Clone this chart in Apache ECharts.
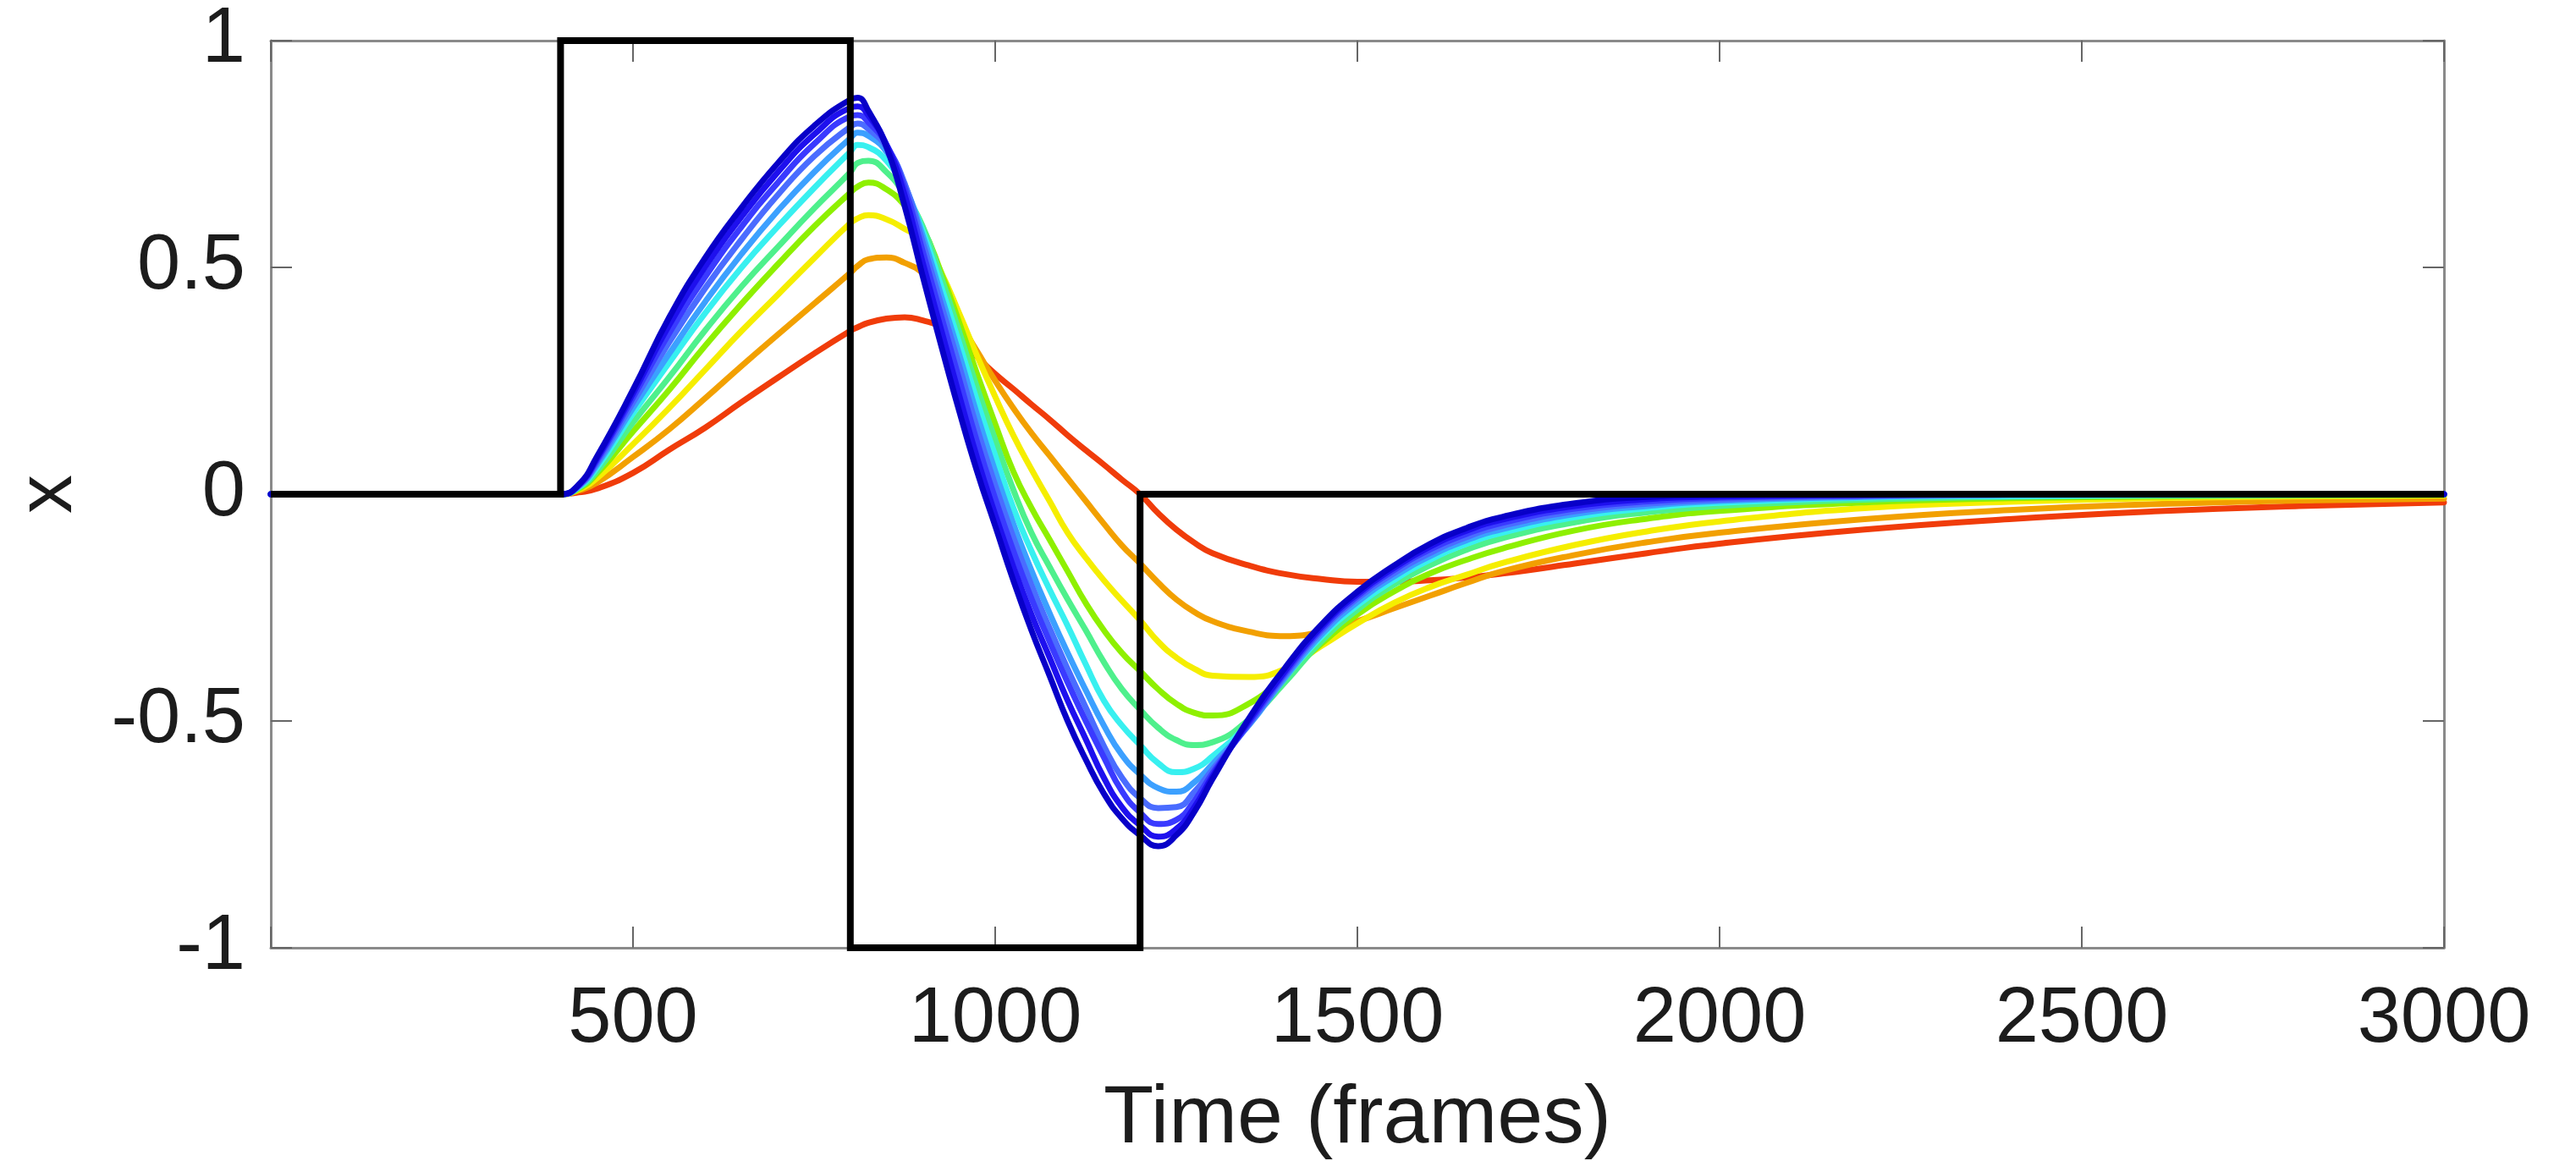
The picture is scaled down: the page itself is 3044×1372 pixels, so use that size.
<!DOCTYPE html>
<html>
<head>
<meta charset="utf-8">
<script src="https://cdn.jsdelivr.net/npm/echarts@6/dist/echarts.min.js"></script>
<style>
html,body{margin:0;padding:0;background:#ffffff;}
#chart{width:3044px;height:1372px;}
</style>
</head>
<body>
<div id="chart"></div>
<script>
// ---- data ----
const timePoints = [0,400,425,450,500,550,600,650,700,750,800,810,825,850,875,900,925,950,975,1000,1025,1050,1075,1100,1125,1150,1175,1200,1225,1250,1275,1300,1350,1400,1450,1500,1550,1600,1650,1700,1800,1900,2000,2200,2400,2600,2800,3000];

const stimulusTimes  = [0,400,400,800,800,1200,1200,3000];
const stimulusValues = [0,0,1,1,-1,-1,0,0];

const curveRed    = [0,0,0.004,0.012,0.047,0.098,0.147,0.203,0.257,0.31,0.36,0.368,0.378,0.387,0.39,0.383,0.37,0.345,0.303,0.265,0.232,0.198,0.165,0.13,0.097,0.065,0.032,0.0,-0.042,-0.078,-0.107,-0.13,-0.157,-0.176,-0.187,-0.193,-0.193,-0.19,-0.184,-0.175,-0.153,-0.13,-0.109,-0.078,-0.055,-0.038,-0.026,-0.018];
const curveOrange = [0,0,0.008,0.025,0.082,0.143,0.212,0.283,0.352,0.42,0.488,0.503,0.518,0.522,0.51,0.487,0.44,0.38,0.315,0.25,0.19,0.135,0.085,0.035,-0.015,-0.065,-0.113,-0.153,-0.195,-0.232,-0.26,-0.28,-0.303,-0.313,-0.303,-0.28,-0.252,-0.224,-0.196,-0.17,-0.134,-0.106,-0.085,-0.055,-0.035,-0.022,-0.014,-0.01];
const curveYellow = [0,0,0.01,0.035,0.11,0.19,0.275,0.36,0.44,0.52,0.598,0.608,0.615,0.606,0.585,0.56,0.49,0.4,0.305,0.215,0.13,0.055,-0.015,-0.085,-0.14,-0.19,-0.235,-0.278,-0.325,-0.36,-0.385,-0.4,-0.403,-0.385,-0.335,-0.285,-0.24,-0.205,-0.178,-0.152,-0.112,-0.082,-0.06,-0.031,-0.017,-0.009,-0.005,-0.003];
const curveLime   = [0,0,0.012,0.045,0.138,0.23,0.328,0.42,0.507,0.59,0.665,0.678,0.687,0.672,0.637,0.585,0.49,0.38,0.265,0.155,0.05,-0.03,-0.1,-0.17,-0.24,-0.3,-0.35,-0.39,-0.43,-0.462,-0.482,-0.488,-0.462,-0.4,-0.33,-0.265,-0.215,-0.175,-0.145,-0.12,-0.08,-0.054,-0.037,-0.018,-0.009,-0.005,-0.003,-0.002];
const curveGreen  = [0,0,0.014,0.05,0.158,0.258,0.362,0.458,0.545,0.63,0.71,0.73,0.735,0.71,0.66,0.59,0.48,0.36,0.235,0.12,0.01,-0.085,-0.16,-0.232,-0.3,-0.37,-0.43,-0.475,-0.515,-0.542,-0.553,-0.547,-0.497,-0.415,-0.325,-0.255,-0.2,-0.157,-0.123,-0.097,-0.062,-0.04,-0.026,-0.012,-0.006,-0.003,-0.002,-0.001];
const curveCyan   = [0,0,0.016,0.058,0.178,0.29,0.4,0.5,0.59,0.675,0.755,0.77,0.765,0.735,0.672,0.58,0.46,0.335,0.205,0.085,-0.03,-0.125,-0.21,-0.29,-0.375,-0.455,-0.51,-0.553,-0.593,-0.613,-0.605,-0.578,-0.505,-0.405,-0.315,-0.245,-0.19,-0.145,-0.11,-0.085,-0.051,-0.031,-0.019,-0.008,-0.004,-0.002,-0.001,0];
const curveAzure  = [0,0,0.017,0.064,0.19,0.31,0.425,0.53,0.625,0.71,0.785,0.797,0.79,0.755,0.682,0.57,0.44,0.31,0.175,0.05,-0.065,-0.168,-0.262,-0.35,-0.432,-0.51,-0.575,-0.618,-0.648,-0.656,-0.635,-0.595,-0.51,-0.405,-0.31,-0.238,-0.182,-0.137,-0.102,-0.077,-0.044,-0.026,-0.015,-0.006,-0.002,-0.001,0,0];
const curveBlue1  = [0,0,0.018,0.069,0.202,0.335,0.455,0.562,0.66,0.745,0.81,0.817,0.805,0.765,0.685,0.555,0.42,0.285,0.145,0.02,-0.095,-0.2,-0.295,-0.385,-0.47,-0.555,-0.625,-0.67,-0.692,-0.69,-0.656,-0.607,-0.508,-0.4,-0.303,-0.23,-0.175,-0.13,-0.095,-0.07,-0.038,-0.021,-0.012,-0.004,-0.001,0,0,0];
const curveBlue2  = [0,0,0.019,0.074,0.213,0.355,0.48,0.59,0.687,0.772,0.833,0.836,0.82,0.77,0.675,0.535,0.395,0.255,0.115,-0.01,-0.125,-0.23,-0.325,-0.415,-0.5,-0.58,-0.655,-0.702,-0.727,-0.718,-0.676,-0.615,-0.505,-0.395,-0.298,-0.225,-0.168,-0.122,-0.088,-0.063,-0.032,-0.016,-0.008,-0.003,-0.001,0,0,0];
const curveBlue3  = [0,0,0.02,0.078,0.222,0.373,0.502,0.612,0.71,0.793,0.852,0.855,0.835,0.77,0.66,0.51,0.365,0.22,0.08,-0.045,-0.16,-0.265,-0.36,-0.455,-0.54,-0.625,-0.69,-0.73,-0.755,-0.738,-0.69,-0.622,-0.5,-0.39,-0.293,-0.22,-0.163,-0.116,-0.081,-0.056,-0.026,-0.011,-0.005,-0.002,0,0,0,0];
const curveBlue4  = [0,0,0.021,0.082,0.23,0.39,0.522,0.632,0.73,0.812,0.87,0.874,0.845,0.765,0.635,0.48,0.33,0.185,0.05,-0.07,-0.19,-0.3,-0.4,-0.5,-0.585,-0.66,-0.715,-0.752,-0.776,-0.752,-0.7,-0.628,-0.495,-0.383,-0.288,-0.215,-0.158,-0.11,-0.075,-0.05,-0.02,-0.006,-0.002,0,0,0,0,0];

const curveList   = [curveRed,curveOrange,curveYellow,curveLime,curveGreen,curveCyan,curveAzure,curveBlue1,curveBlue2,curveBlue3,curveBlue4];
const curveColors = ['#f03c0a','#f2a000','#f5ee00','#8ef000','#4ef08c','#38f0f0','#3ca0ff','#4a6cff','#3a3aff','#1e10ee','#0800c8'];

const xTickLabels = ['500','1000','1500','2000','2500','3000'];
const yTickLabels = ['-1','-0.5','0','0.5','1'];

// ---- chart ----
const chart = echarts.init(document.getElementById('chart'), null, {renderer:'canvas'});
const FONT = 'Liberation Sans, Arial, Helvetica, sans-serif';
const TEXT = '#1c1c1c';
const AXISC = '#8a8a8a';

const series = curveList.map((vals, i) => ({
  type: 'line',
  data: timePoints.map((t, k) => [t, vals[k]]),
  showSymbol: false,
  smooth: 0.5,
  silent: true,
  z: 2 + i,
  lineStyle: {color: curveColors[i], width: 7, cap: 'round', join: 'round'}
}));
series.push({
  type: 'line',
  data: stimulusTimes.map((t, k) => [t, stimulusValues[k]]),
  showSymbol: false,
  silent: true,
  z: 30,
  lineStyle: {color: '#000000', width: 8, cap: 'butt', join: 'miter'}
});

function xLabel(v){ const s = String(v); return xTickLabels.indexOf(s) >= 0 ? s : ''; }
function yLabel(v){ const s = String(v); return yTickLabels.indexOf(s) >= 0 ? s : ''; }

const tickStyle = {show: true, inside: true, length: 25, lineStyle: {color: '#666', width: 2}};
const lineStyleAxis = {show: true, onZero: false, lineStyle: {color: AXISC, width: 3}};

chart.setOption({
  animation: false,
  backgroundColor: '#ffffff',
  grid: {left: 320, right: 156, top: 48, bottom: 252, containLabel: false, outerBoundsMode: 'none'},
  xAxis: [
    {type: 'value', min: 0, max: 3000, interval: 500, position: 'bottom',
     axisLine: lineStyleAxis, axisTick: tickStyle, splitLine: {show: false},
     axisLabel: {formatter: xLabel, fontSize: 92, fontFamily: FONT, color: TEXT, margin: 40},
     name: 'Time (frames)', nameLocation: 'middle', nameGap: 155,
     nameTextStyle: {fontSize: 97, fontFamily: FONT, color: TEXT}},
    {type: 'value', min: 0, max: 3000, interval: 500, position: 'top',
     axisLine: lineStyleAxis, axisTick: tickStyle, splitLine: {show: false},
     axisLabel: {show: false}}
  ],
  yAxis: [
    {type: 'value', min: -1, max: 1, interval: 0.5, position: 'left',
     axisLine: lineStyleAxis, axisTick: tickStyle, splitLine: {show: false},
     axisLabel: {formatter: yLabel, fontSize: 92, fontFamily: FONT, color: TEXT, margin: 30},
     name: 'x', nameLocation: 'middle', nameGap: 215, nameRotate: 90,
     nameTextStyle: {fontSize: 92, fontFamily: FONT, color: TEXT}},
    {type: 'value', min: -1, max: 1, interval: 0.5, position: 'right',
     axisLine: lineStyleAxis, axisTick: tickStyle, splitLine: {show: false},
     axisLabel: {show: false}}
  ],
  series: series
});
</script>
</body>
</html>
